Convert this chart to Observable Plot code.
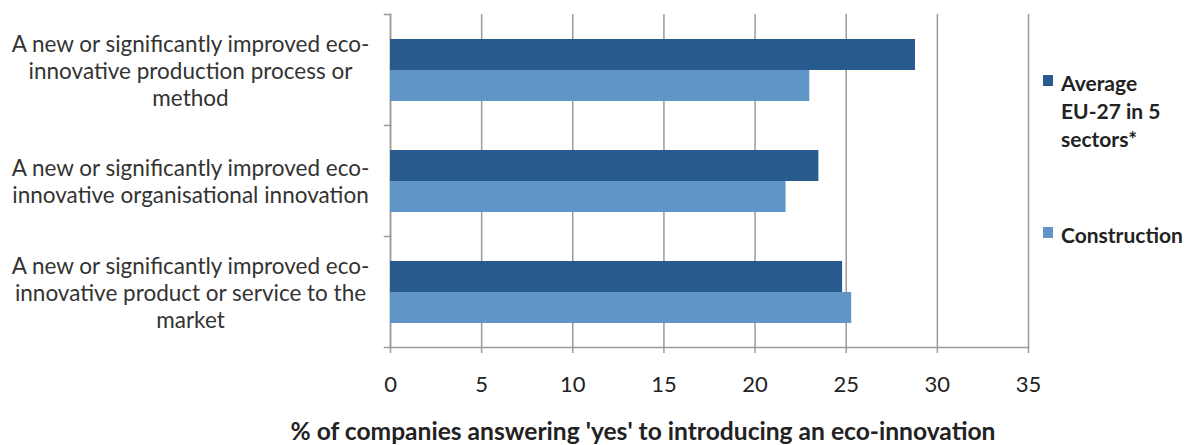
<!DOCTYPE html>
<html>
<head>
<meta charset="utf-8">
<script src="https://cdn.jsdelivr.net/npm/d3@7"></script>
<script src="https://cdn.jsdelivr.net/npm/@observablehq/plot@0.6"></script>
<style>
  body { margin: 0; background: #fff; font-family: Lato, "Open Sans", sans-serif; }
  #wrap { position: relative; width: 1195px; height: 445px; }
  #legend { position: absolute; left: 1043px; top: 69px; font-weight: bold; font-size: 21px; color: #222; }
  .item { position: absolute; left: 0; display: flex; align-items: flex-start; line-height: 28px; }
  .item span.text { white-space: pre; }
  .swatch { width: 10px; height: 11px; margin: 6px 8px 0 0; flex: none; }
  #xlabel { font-weight: bold; font-size: 24.6px; line-height: 1.2; color: #222; position: absolute; top: 416px; left: 643px; transform: translateX(-50%); white-space: nowrap; }
</style>
</head>
<body>
<div id="wrap"></div>
<script>
// Share of companies introducing an eco-innovation, by type of innovation
const categories = [
  "A new or significantly improved eco-innovative production process or method",
  "A new or significantly improved eco-innovative organisational innovation",
  "A new or significantly improved eco-innovative product or service to the market"
];
const categoryLabels = [
  "A new or significantly improved eco-\ninnovative production process or\nmethod",
  "A new or significantly improved eco-\ninnovative organisational innovation",
  "A new or significantly improved eco-\ninnovative product or service to the\nmarket"
];
const series = ["Average EU-27 in 5 sectors*", "Construction"];
const legendLabels = ["Average\nEU-27 in 5\nsectors*", "Construction"];
const seriesColors = ["#285b8d", "#6095c8"];
const averageEU27 = [28.8, 23.5, 24.8];
const construction = [23.0, 21.7, 25.3];
const xTicks = [0, 5, 10, 15, 20, 25, 30, 35];
const xLabel = "% of companies answering 'yes' to introducing an eco-innovation";

const rows = categories.flatMap((c, i) => [
  {category: c, series: series[0], value: averageEU27[i]},
  {category: c, series: series[1], value: construction[i]}
]);

const width = 1195;
const marginLeft = 390;
const marginRight = 167;
const plotWidth = width - marginLeft - marginRight;
const axisGray = "#9a9a9a";

const chart = Plot.plot({
  width,
  height: 400,
  marginTop: 13,
  marginBottom: 53,
  marginLeft,
  marginRight,
  style: {fontFamily: "Lato, 'Open Sans', sans-serif", background: "#fff"},
  x: {domain: [0, 35]},
  fy: {domain: categories, padding: 0, axis: null},
  y: {domain: series, paddingInner: 0, paddingOuter: 0.79, axis: null},
  color: {domain: series, range: seriesColors},
  marks: [
    Plot.gridX(xTicks, {stroke: axisGray, strokeOpacity: 1, strokeWidth: 1.5}),
    // short category-boundary ticks on the category axis
    Plot.frame({anchor: "top", insetLeft: -6, insetRight: plotWidth, stroke: axisGray, strokeWidth: 1.5}),
    Plot.frame({facet: "super", anchor: "bottom", insetLeft: -6, stroke: axisGray, strokeWidth: 1.5}),
    Plot.frame({facet: "super", anchor: "left", stroke: axisGray, strokeWidth: 1.5}),
    Plot.barX(rows, {fy: "category", y: "series", x: "value", fill: "series"}),
    Plot.text(categories, {
      fy: (d) => d,
      text: (d, i) => categoryLabels[i],
      frameAnchor: "left",
      dx: -200,
      textAnchor: "middle",
      lineHeight: 1.2,
      fontSize: 22.5,
      fill: "#333"
    }),
    Plot.axisX(xTicks, {tickSize: 6, tickPadding: 23, stroke: axisGray, strokeWidth: 1.5, fill: "#222", fontSize: 22, label: null})
  ]
});

const wrap = document.getElementById("wrap");
wrap.appendChild(chart);

// legend
const legend = document.createElement("div");
legend.id = "legend";
const legendTops = [0, 152];
series.forEach((s, i) => {
  const item = document.createElement("div");
  item.className = "item";
  item.style.top = legendTops[i] + "px";
  const sw = document.createElement("span");
  sw.className = "swatch";
  sw.style.background = seriesColors[i];
  const tx = document.createElement("span");
  tx.className = "text";
  tx.textContent = legendLabels[i];
  item.appendChild(sw);
  item.appendChild(tx);
  legend.appendChild(item);
});
wrap.appendChild(legend);

const xl = document.createElement("div");
xl.id = "xlabel";
xl.textContent = xLabel;
wrap.appendChild(xl);
</script>
</body>
</html>
